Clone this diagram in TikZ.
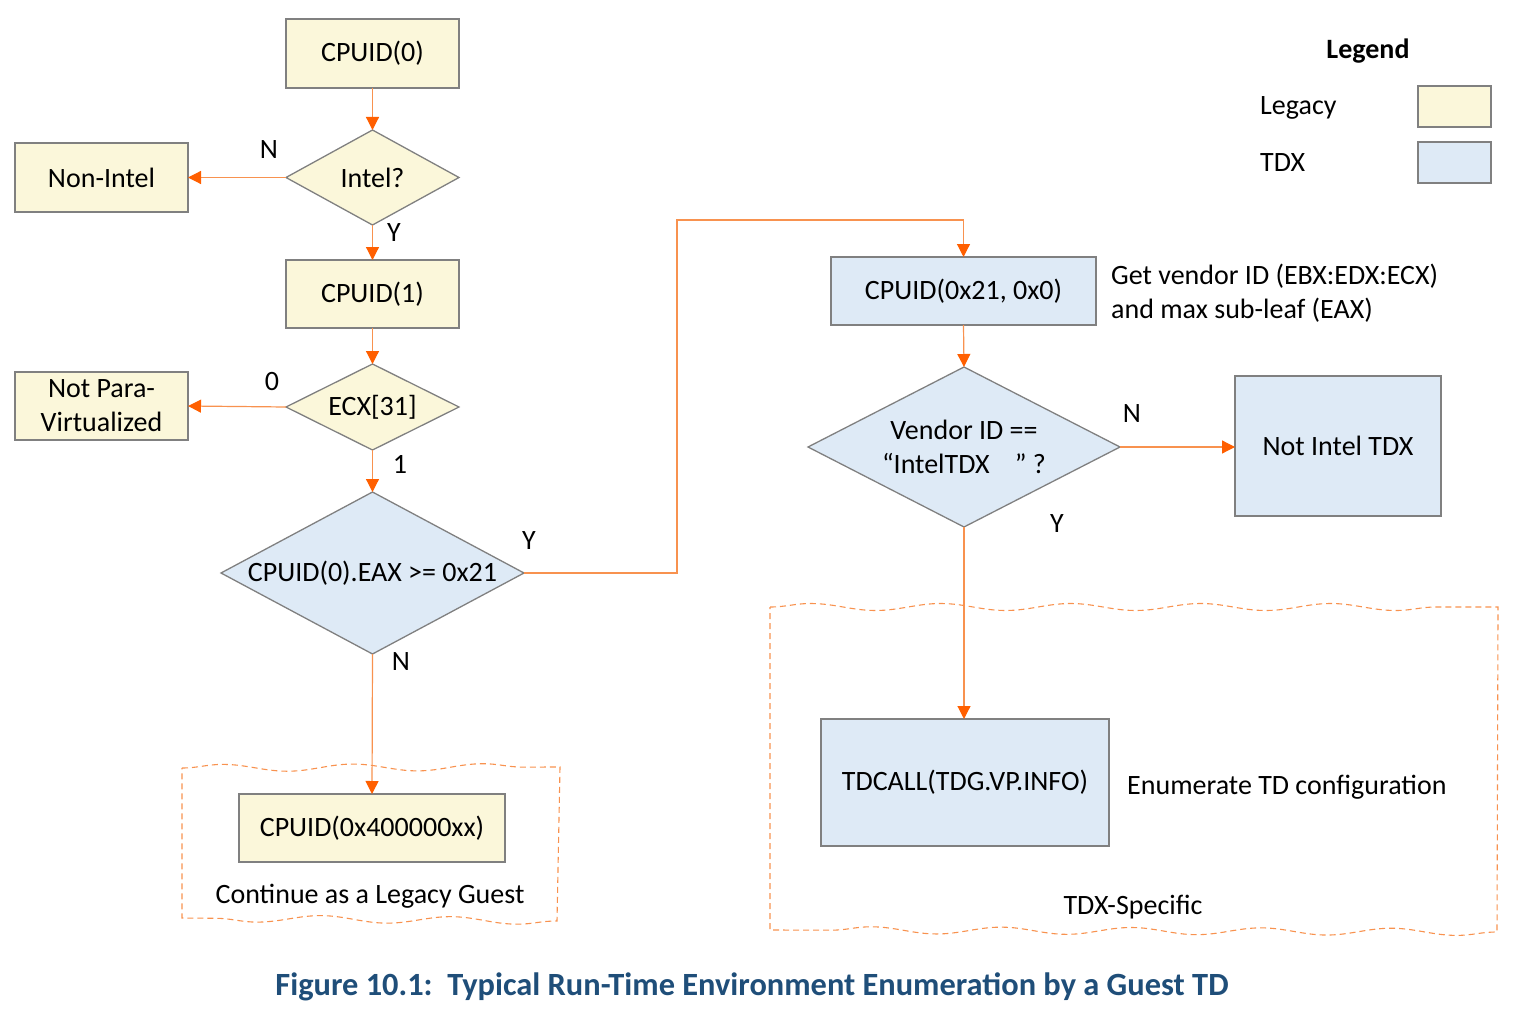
\documentclass[tikz,border=0pt]{standalone}
\usepackage{fontspec}
\setmainfont{Carlito}
\usetikzlibrary{shapes.geometric,arrows.meta,decorations.pathmorphing,calc}
\definecolor{legacyfill}{HTML}{FBF7DA}
\definecolor{tdxfill}{HTML}{DEEAF6}
\definecolor{boxline}{HTML}{808080}
\definecolor{conn}{HTML}{F8924F}
\definecolor{tipc}{HTML}{FF5F00}
\definecolor{capc}{HTML}{1F4E79}
\newcommand\fsz{\fontsize{28}{34}\selectfont}
\begin{document}
\begin{tikzpicture}[x=1pt,y=-1pt,font=\fsz,
  legacy/.style={draw=boxline, line width=1.3pt, fill=legacyfill, outer sep=0pt, inner sep=0pt},
  tdx/.style={draw=boxline, line width=1.3pt, fill=tdxfill, outer sep=0pt, inner sep=0pt},
  dia/.style={diamond, draw=boxline, line width=1.3pt, inner sep=0pt, outer sep=0pt},
  arr/.style={draw=conn, line width=1.2pt, -{Triangle[length=13pt,width=13pt,color=tipc]}},
  region/.style={draw=conn, line width=1.1pt, dash pattern=on 6pt off 4pt,
     decoration={snake,segment length=130pt,amplitude=3.5pt}},
  lbl/.style={inner sep=0pt}]
\useasboundingbox (0,0) rectangle (1515,1011);
% regions
\draw[region] (182,768) decorate{-- (560,767)} -- (557,921) decorate{-- (182,918)} -- cycle;
\draw[region] (770,607) decorate{-- (1498,607)} -- (1497,932) decorate{-- (770,930)} -- cycle;
% left column
\node[legacy, minimum width=173, minimum height=69] (c0) at (372.5,53.5) {CPUID(0)};
\node[dia, fill=legacyfill, minimum width=173, minimum height=95, aspect=1.82] (intel) at (372.5,177.5) {Intel?};
\node[legacy, minimum width=173, minimum height=69] (nonintel) at (101.5,177.5) {Non-Intel};
\node[legacy, minimum width=173, minimum height=68] (c1) at (372.5,294) {CPUID(1)};
\node[dia, fill=legacyfill, minimum width=173, minimum height=86, aspect=2] (ecx) at (372.5,407) {ECX[31]};
\node[legacy, minimum width=173, minimum height=68, align=center] (npv) at (101.5,406) {Not Para-\\Virtualized};
\node[dia, fill=tdxfill, minimum width=303, minimum height=162, aspect=1.87] (eax) at (372.5,573) {CPUID(0).EAX >= 0x21};
\node[legacy, minimum width=266, minimum height=68] (c4) at (372,828) {CPUID(0x400000xx)};
\node (cont) at (370,896) {Continue as a Legacy Guest};
% right column
\node[tdx, minimum width=265, minimum height=68] (c21) at (963.5,291) {CPUID(0x21, 0x0)};
\node[anchor=west, align=left, inner sep=0pt] (c21note) at (1111,293) {Get vendor ID (EBX:EDX:ECX)\\and max sub-leaf (EAX)};
\node[dia, fill=tdxfill, minimum width=312, minimum height=160, aspect=1.95, align=center] (vend) at (964,447) {Vendor ID ==\\“IntelTDX\ \ \ \ ” ?};
\node[tdx, minimum width=206, minimum height=140] (nitdx) at (1338,446) {Not Intel TDX};
\node[tdx, minimum width=288, minimum height=127] (tdcall) at (965,782.5) {TDCALL(TDG.VP.INFO)};
\node[anchor=west, inner sep=0pt] (enum) at (1127,787) {Enumerate TD configuration};
\node (tdxspec) at (1133,907) {TDX-Specific};
% legend
\node[font=\fsz\bfseries] (legend) at (1368,51) {Legend};
\node[anchor=west, inner sep=0pt] (leglab1) at (1260,108) {Legacy};
\node[legacy, minimum width=73, minimum height=41] (legbox1) at (1454.5,106.5) {};
\node[anchor=west, inner sep=0pt] (leglab2) at (1260,163) {TDX};
\node[tdx, minimum width=73, minimum height=41] (legbox2) at (1454.5,162.5) {};
% caption
\node[font=\fontsize{32.4}{38}\selectfont\bfseries, text=capc] (cap) at (752,987) {Figure 10.1:\ \ Typical Run-Time Environment Enumeration by a Guest TD};
% edge labels
\node[lbl] (lN1) at (269,150) {N};
\node[lbl] (lY1) at (394,233) {Y};
\node[lbl] (l0) at (272,382) {0};
\node[lbl] (l1) at (400,464) {1};
\node[lbl] (lY2) at (529,541) {Y};
\node[lbl] (lN2) at (401,662) {N};
\node[lbl] (lN3) at (1132,414) {N};
\node[lbl] (lY3) at (1057,524) {Y};
% connectors
\coordinate (bend) at (677,220);
\draw[arr] (c0.south) -- (intel.north);
\draw[arr] (intel.west) -- (nonintel.east);
\draw[arr] (intel.south) -- (c1.north);
\draw[arr] (c1.south) -- (ecx.north);
\draw[arr] (ecx.west) -- (npv.east);
\draw[arr] (ecx.south) -- (eax.north);
\draw[arr] (eax.south) -- (c4.north);
\draw[arr] (eax.east) -| (bend) -| (c21.north);
\draw[arr] (c21.south) -- (vend.north);
\draw[arr] (vend.east) -- (vend.east -| nitdx.west);
\draw[arr] (vend.south) -- (vend.south |- tdcall.north);
\end{tikzpicture}
\end{document}
